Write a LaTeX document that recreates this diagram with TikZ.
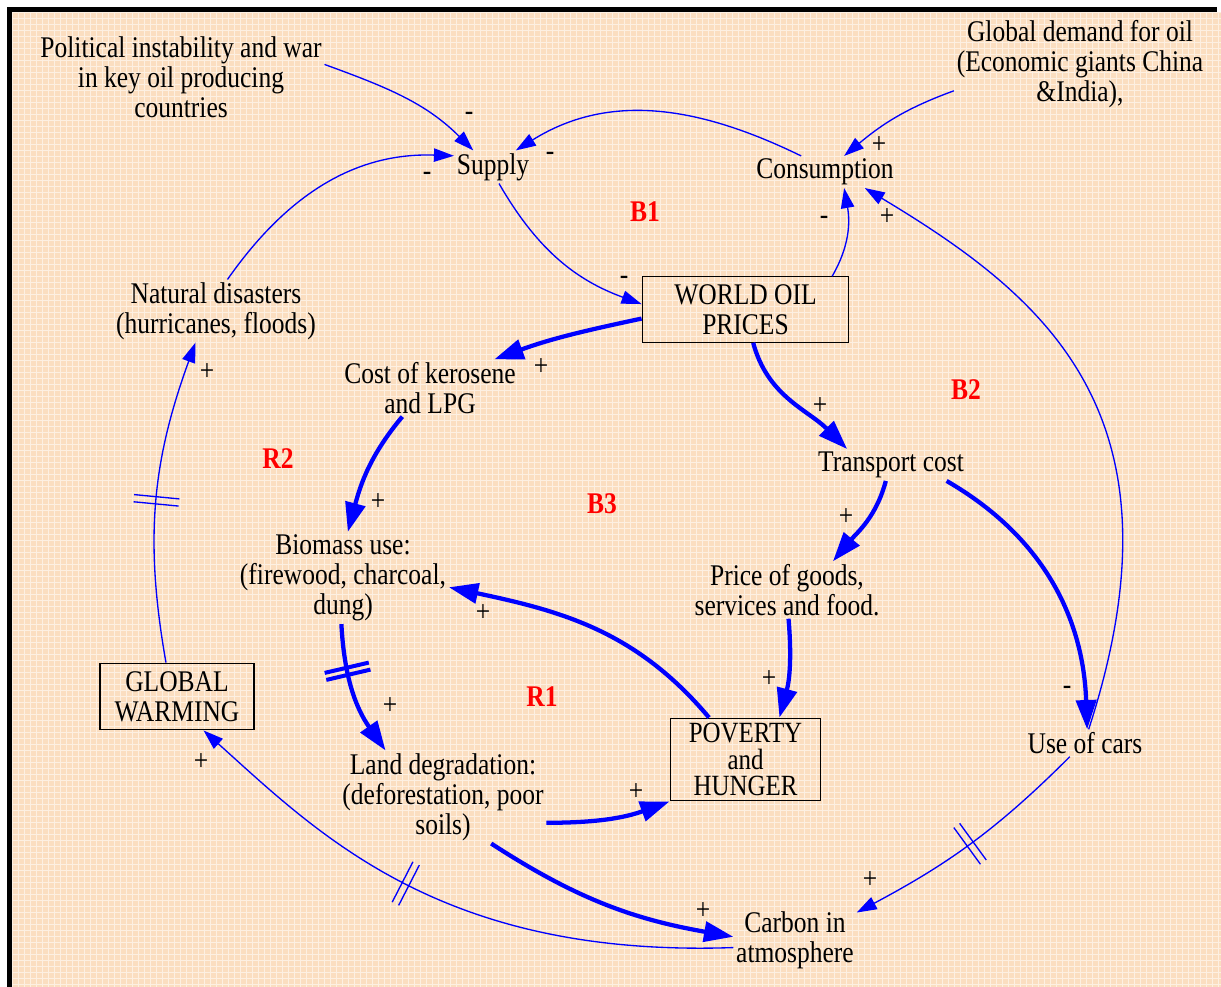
\documentclass[tikz,border=0pt]{standalone}
\usepackage{fontspec}
\setmainfont{Liberation Serif}[FakeStretch=0.85]
\usetikzlibrary{arrows.meta,decorations.markings}

\definecolor{paper}{RGB}{251,222,192}

\begin{document}
\begin{tikzpicture}[
    x=0.75pt, y=0.75pt,
    % variables and stocks
    var/.style={align=center, inner sep=2pt, font=\fontsize{22.5}{22.5}\selectfont},
    stock/.style={var, draw, line width=0.9pt, inner sep=0pt},
    % loop identifiers and polarities
    loopname/.style={text=red, font=\fontsize{22.5}{22.5}\selectfont\bfseries},
    sign/.style={inner sep=0pt, font=\fontsize{22.5}{22.5}\selectfont},
    % causal links
    link/.style={blue, line width=1pt, -{Triangle[length=15pt,width=10pt]}},
    strong/.style={blue, line width=3.2pt, -{Triangle[length=22pt,width=15pt]}},
    delay/.style 2 args={
        postaction={decorate},
        decoration={
            markings,
            mark=at position #1 with {\draw[-, blue, line width=#2] (-2.7pt,-17pt) -- (-2.7pt,17pt) (2.7pt,-17pt) -- (2.7pt,17pt);}
        }
    }
]

    % Background and frame
    \useasboundingbox (0,0) rectangle (1221,-987);
    \fill[paper] (12,-12) rectangle (1221,-987);
    \draw[white, line width=0.7pt, opacity=0.55, step=6] (12,-12) grid (1221,-987);
    \fill[black] (7,-7) rectangle (12,-987);
    \fill[black] (7,-7) rectangle (1217,-12);

    % Variables
    \node[var] (political) at (181,-77) {Political instability and war\\in key oil producing\\countries};
    \node[var] (supply) at (493,-167) {Supply};
    \node[var] (demand) at (1080,-64) {Global demand for oil\\(Economic giants China\\\&India),};
    \node[var] (consumption) at (825,-172) {Consumption};
    \node[stock, minimum width=155pt, minimum height=49pt] (oilprice) at (745.5,-309.5) {WORLD OIL\\PRICES};
    \node[var] (disasters) at (216,-311) {Natural disasters\\(hurricanes, floods)};
    \node[var] (kerosene) at (430,-388) {Cost of kerosene\\and LPG};
    \node[var] (transport) at (891,-465) {Transport cost};
    \node[var] (biomass) at (343,-578) {Biomass use:\\(firewood, charcoal,\\dung)};
    \node[var] (goods) at (787,-590) {Price of goods,\\services and food.};
    \node[stock, minimum width=115.5pt, minimum height=50pt] (warming) at (177,-696.5) {GLOBAL\\WARMING};
    \node[stock, minimum width=113pt, minimum height=62pt, font=\fontsize{22}{20}\selectfont] (poverty) at (745.5,-759.5) {POVERTY\\and\\HUNGER};
    \node[var] (cars) at (1085,-743) {Use of cars};
    \node[var] (land) at (443,-797) {Land degradation:\\(deforestation, poor\\soils)};
    \node[var] (carbon) at (795,-940) {Carbon in\\atmosphere};

    % Loop names
    \node[loopname] (B1) at (645,-212) {B1};
    \node[loopname] (B2) at (966,-390) {B2};
    \node[loopname] (B3) at (602,-504) {B3};
    \node[loopname] (R1) at (542,-697) {R1};
    \node[loopname] (R2) at (278,-459) {R2};

    % Thin links
    \draw[link] (political.5) to[out=-20, in=135] (supply.140);
    \draw[link] (consumption.146) to[out=154, in=32] (supply.36);
    \draw[link] (disasters.70) to[out=55, in=178] (supply.164);
    \draw[link] (demand.192) to[out=200, in=40] (consumption.40);
    \draw[link] (oilprice.21) to[out=60, in=-80] (consumption.-40);
    \draw[link] (cars.75) to[out=72, in=-31, out looseness=1.44, in looseness=0.93] (consumption.-22);
    \draw[link] (supply.-70) to[out=-60, in=160] (oilprice.177);
    \draw[link, delay={0.5}{1pt}] (warming.108) to[out=100, in=-110] (disasters.-123);
    \draw[link, delay={0.57}{1pt}] (carbon.187) to[out=182, in=-42, out looseness=1.3, in looseness=0.7] (warming.-52);
    \draw[link, delay={0.5}{1pt}] (cars.-138) to[out=225, in=28] (carbon.24);

    % Thick links
    \draw[strong] (oilprice.185) to[out=192, in=20] (kerosene.24);
    \draw[strong] (oilprice.-77) to[out=-75, in=135] (transport.160);
    \draw[strong] (kerosene.-134) to[out=230, in=75] (biomass.84);
    \draw[strong] (transport.-108) to[out=255, in=50] (goods.32);
    \draw[strong] (transport.-16) to[out=-30, in=92] (cars.81);
    \draw[strong] (goods.-87) to[out=-85, in=75] (poverty.51);
    \draw[strong] (poverty.131) to[out=130, in=-12] (biomass.-5);
    \draw[strong, delay={0.35}{3pt}] (biomass.-92) to[out=-87, in=125] (land.141);
    \draw[strong] (land.-14.5) to[out=0, in=-160] (poverty.south west);
    \draw[strong] (land.-44) to[out=-33, in=170] (carbon.177);

    % Polarities
    \node[sign] (pol-sup) at (469,-116) {-};
    \node[sign] (con-sup) at (550,-156) {-};
    \node[sign] (dis-sup) at (427,-176) {-};
    \node[sign] (dem-con) at (879,-145) {+};
    \node[sign] (oil-con) at (824,-220) {-};
    \node[sign] (car-con) at (887,-217) {+};
    \node[sign] (sup-oil) at (624,-280) {-};
    \node[sign] (oil-ker) at (541,-367) {+};
    \node[sign] (oil-tra) at (820,-406) {+};
    \node[sign] (war-dis) at (207,-372) {+};
    \node[sign] (ker-bio) at (378,-502) {+};
    \node[sign] (tra-goo) at (846,-517) {+};
    \node[sign] (pov-bio) at (483,-613) {+};
    \node[sign] (bio-lan) at (390,-706) {+};
    \node[sign] (goo-pov) at (769,-679) {+};
    \node[sign] (tra-car) at (1067,-690) {-};
    \node[sign] (lan-pov) at (636,-792) {+};
    \node[sign] (car-war) at (201,-762) {+};
    \node[sign] (cars-car) at (870,-880) {+};
    \node[sign] (lan-car) at (703,-911) {+};
\end{tikzpicture}
\end{document}
